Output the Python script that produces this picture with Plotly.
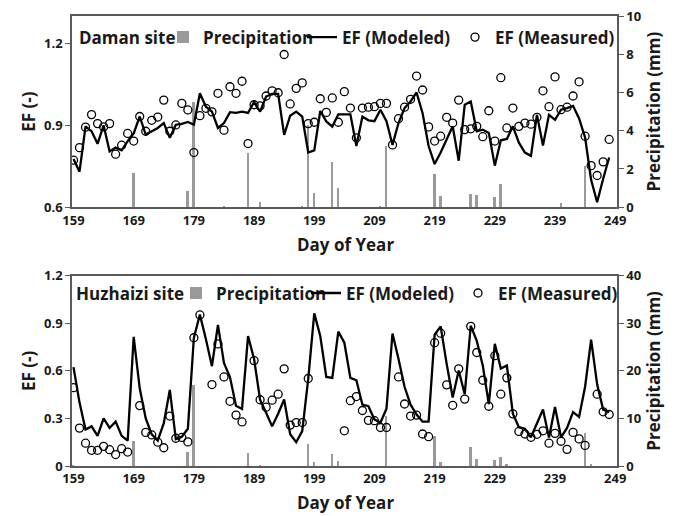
import plotly.graph_objects as go

days = list(range(159, 249))

daman_model = [0.776, 0.730, 0.896, 0.878, 0.832, 0.900, 0.804, 0.818, 0.808, 0.842,
               0.870, 0.932, 0.866, 0.878, 0.890, 0.908, 0.854, 0.902, 0.905, 0.912,
               0.902, 1.017, 0.968, 0.950, 0.890, 0.908, 0.948, 0.945, 0.950, 0.945,
               0.985, 0.950, 1.005, 1.015, 1.015, 0.865, 0.935, 0.950, 0.932, 0.800,
               0.808, 0.952, 0.914, 0.895, 0.940, 0.940, 0.940, 0.824, 0.932, 0.918,
               0.915, 0.957, 0.915, 0.828, 0.908, 0.963, 0.987, 1.020, 0.944, 0.824,
               0.758, 0.800, 0.848, 0.896, 0.770, 0.975, 0.987, 0.878, 0.884, 0.872,
               0.752, 0.845, 0.850, 0.896, 0.836, 0.800, 0.788, 0.938, 0.826, 0.938,
               0.920, 0.957, 0.963, 0.971, 0.925, 0.855, 0.700, 0.618, 0.704, 0.782]

daman_meas = [0.772, 0.818, 0.893, 0.939, 0.906, 0.894, 0.906, 0.794, 0.827, 0.870,
              0.842, 0.932, 0.878, 0.918, 0.930, 0.992, 0.878, 0.901, 0.980, 0.956,
              0.800, 0.935, 0.962, 0.949, 1.017, 0.882, 1.041, 1.017, 1.061, 0.833,
              0.975, 0.971, 1.007, 1.026, 1.019, 1.159, 0.978, 1.035, 1.055, 0.906,
              0.911, 0.997, 0.947, 1.000, 0.911, 1.023, 0.963, 0.854, 0.963, 0.966,
              0.968, 0.980, 0.980, 0.828, 0.924, 0.966, 0.995, 1.080, 1.029, 0.894,
              0.842, 0.860, 0.929, 0.908, 0.992, 0.884, 0.887, 0.896, 0.858, 0.953,
              0.842, 1.074, 0.890, 0.963, 0.896, 0.908, 0.904, 0.929, 1.026, 0.968,
              1.077, 0.957, 0.966, 1.007, 1.059, 0.860, 0.752, 0.716, 0.766, 0.848]

daman_precip_days = [169, 178, 179, 184, 188, 190, 197, 198, 199, 202, 203,
                     210, 211, 219, 220, 225, 226, 229, 230, 240, 244]
daman_precip = [1.8, 0.85, 5.5, 0.05, 2.84, 0.27, 0.05, 4.3, 0.75, 2.38, 1.0,
                0.05, 3.18, 1.73, 0.58, 0.70, 0.62, 0.53, 1.22, 0.22, 2.14]

huz_model = [0.624, 0.400, 0.230, 0.250, 0.190, 0.300, 0.240, 0.280, 0.190, 0.160,
             0.815, 0.490, 0.300, 0.200, 0.160, 0.270, 0.480, 0.170, 0.185, 0.235,
             0.810, 0.955, 0.800, 0.630, 0.890, 0.650, 0.560, 0.380, 0.360, 0.820,
             0.675, 0.418, 0.336, 0.250, 0.330, 0.420, 0.200, 0.150, 0.220, 0.550,
             0.963, 0.820, 0.562, 0.556, 0.848, 0.778, 0.556, 0.541, 0.387, 0.377,
             0.294, 0.274, 0.362, 0.836, 0.675, 0.500, 0.387, 0.325, 0.280, 0.280,
             0.829, 0.881, 0.644, 0.432, 0.603, 0.453, 0.885, 0.789, 0.634, 0.391,
             0.771, 0.615, 0.634, 0.330, 0.245, 0.235, 0.181, 0.265, 0.356, 0.180,
             0.372, 0.181, 0.240, 0.340, 0.310, 0.500, 0.797, 0.515, 0.356, 0.340]

huz_meas = [0.494, 0.239, 0.144, 0.099, 0.099, 0.124, 0.103, 0.072, 0.109, 0.088,
            None, 0.381, 0.212, 0.196, 0.150, 0.115, 0.315, 0.175, 0.180, 0.152,
            0.809, 0.953, None, 0.514, 0.770, 0.562, 0.408, 0.321, 0.278, None,
            0.665, 0.418, 0.371, 0.415, 0.453, 0.613, 0.258, 0.274, 0.274, 0.552,
            None, None, None, None, None, 0.222, 0.412, 0.438, 0.350, 0.288,
            0.286, 0.243, 0.243, None, 0.562, 0.391, 0.315, 0.321, 0.202, 0.185,
            0.778, 0.838, 0.512, 0.383, 0.613, 0.422, 0.881, 0.716, 0.541, 0.377,
            0.696, 0.453, 0.556, 0.329, 0.218, 0.202, 0.181, 0.200, 0.222, 0.144,
            0.206, 0.156, 0.105, 0.212, 0.171, 0.130, None, 0.453, 0.342, 0.325]

huz_precip_days = [159, 169, 178, 179, 188, 190, 198, 199, 202, 203,
                   211, 219, 220, 225, 226, 229, 230, 231, 244, 245]
huz_precip = [0.3, 5.4, 3.0, 17.0, 2.85, 0.1, 4.67, 0.8, 2.47, 1.0,
              10.5, 6.4, 0.8, 4.0, 1.5, 1.2, 1.9, 0.4, 7.0, 0.4]

x_ticks = [159, 169, 179, 189, 199, 209, 219, 229, 239, 249]
site_names = ["Daman site", "Huzhaizi site"]
x_title = "Day of Year"

FONT = "Open Sans"
TXT = "#1a1a1a"
AX = "#5a5a5a"
BAR = "#9a9a9a"

fig = go.Figure()

# top panel: precip on y (right), EF on y2 (left, overlaying)
fig.add_trace(go.Bar(x=daman_precip_days, y=daman_precip, width=0.32, marker=dict(color=BAR, line=dict(width=0)),
                     name="Precipitation", xaxis="x", yaxis="y", legend="legend"))
fig.add_trace(go.Scatter(x=days, y=daman_model, mode="lines", line=dict(color="black", width=2.3),
                         name="EF (Modeled)", xaxis="x", yaxis="y2", legend="legend2"))
fig.add_trace(go.Scatter(x=days, y=daman_meas, mode="markers",
                         marker=dict(symbol="circle-open", size=8, color="black", line=dict(width=1.3)),
                         name="EF (Measured)", xaxis="x", yaxis="y2", legend="legend3"))

# bottom panel
fig.add_trace(go.Bar(x=huz_precip_days, y=huz_precip, width=0.32, marker=dict(color=BAR, line=dict(width=0)),
                     name="Precipitation", xaxis="x2", yaxis="y3", legend="legend4"))
fig.add_trace(go.Scatter(x=days, y=huz_model, mode="lines", line=dict(color="black", width=2.3),
                         name="EF (Modeled)", xaxis="x2", yaxis="y4", legend="legend5"))
fig.add_trace(go.Scatter(x=days, y=huz_meas, mode="markers",
                         marker=dict(symbol="circle-open", size=8, color="black", line=dict(width=1.3)),
                         name="EF (Measured)", xaxis="x2", yaxis="y4", legend="legend6"))

W, H = 692, 516
ml, mr, mt, mb = 72, 75, 7, 50
ph = H - mt - mb
pw = W - ml - mr
top_dom = [(466 - 202) / ph, 1.0]
bot_dom = [0.0, (466 - 272) / ph]

tickfont = dict(family=FONT, size=13, color=TXT, weight="bold")
titlefont = dict(family=FONT, size=17, color=TXT, weight="bold")

def xax(anchor):
    return dict(range=[158.75, 249.3], tickvals=x_ticks, ticks="", showline=True, linecolor=AX,
                linewidth=1.5, mirror=True, showgrid=False, zeroline=False, tickfont=tickfont,
                anchor=anchor, domain=[0, 1])

def yax_left(rng, overlay, anchor, tickvals, ticktext):
    return dict(range=rng, tickvals=tickvals, ticktext=ticktext, side="left", showline=True,
                linecolor=AX, linewidth=1.5, ticks="outside", ticklen=5, tickcolor=AX,
                showgrid=False, zeroline=False, tickfont=tickfont, anchor=anchor,
                title=dict(text="EF (-)", font=titlefont, standoff=4), overlaying=overlay)

def yax_right(rng, dtick, dom, anchor):
    return dict(range=rng, dtick=dtick, side="right", showline=True, linecolor=AX, linewidth=1.5,
                ticks="outside", ticklen=5, tickcolor=AX, showgrid=False, zeroline=False,
                tickfont=tickfont, domain=dom, anchor=anchor,
                title=dict(text="Precipitation (mm)", font=titlefont, standoff=8))

ya = yax_right([0, 10], 2, top_dom, "x")
ya2 = yax_left([0.6, 1.3], "y", "x", [0.6, 0.9, 1.2], ["0.6", "0.9", "1.2"])
ya3 = yax_right([0, 40], 10, bot_dom, "x2")
ya4 = yax_left([0, 1.2], "y3", "x2", [0, 0.3, 0.6, 0.9, 1.2], ["0", "0.3", "0.6", "0.9", "1.2"])

legfont = dict(family=FONT, size=17, color=TXT, weight="bold")

def leg(xpx, ypx):
    return dict(x=(xpx - ml) / pw, y=(466 - ypx) / ph, xanchor="left", yanchor="middle",
                orientation="h", bgcolor="rgba(0,0,0,0)", borderwidth=0, font=legfont,
                itemwidth=30, tracegroupgap=0)

def ann(text, xpx, ypx, xanchor="left"):
    return dict(text=text, x=(xpx - ml) / pw, y=(466 - ypx) / ph, xref="paper", yref="paper",
                xanchor=xanchor, yanchor="middle", showarrow=False, font=legfont)

fig.update_layout(
    width=W, height=H, margin=dict(l=ml, r=mr, t=mt, b=mb),
    paper_bgcolor="white", plot_bgcolor="white", showlegend=True,
    font=dict(family=FONT, color=TXT),
    xaxis=xax("y"), xaxis2=xax("y3"), yaxis=ya, yaxis2=ya2, yaxis3=ya3, yaxis4=ya4,
    bargap=0,
    legend=leg(163, 29), legend2=leg(302, 29), legend3=leg(455, 29),
    legend4=leg(176, 290), legend5=leg(306, 290), legend6=leg(458, 290),
    annotations=[
        ann(site_names[0], 77, 29),
        ann(site_names[1], 74, 290),
        ann(x_title, 345, 240, "center"),
        ann(x_title, 345, 503, "center"),
    ],
)

fig.write_html("out.html")
